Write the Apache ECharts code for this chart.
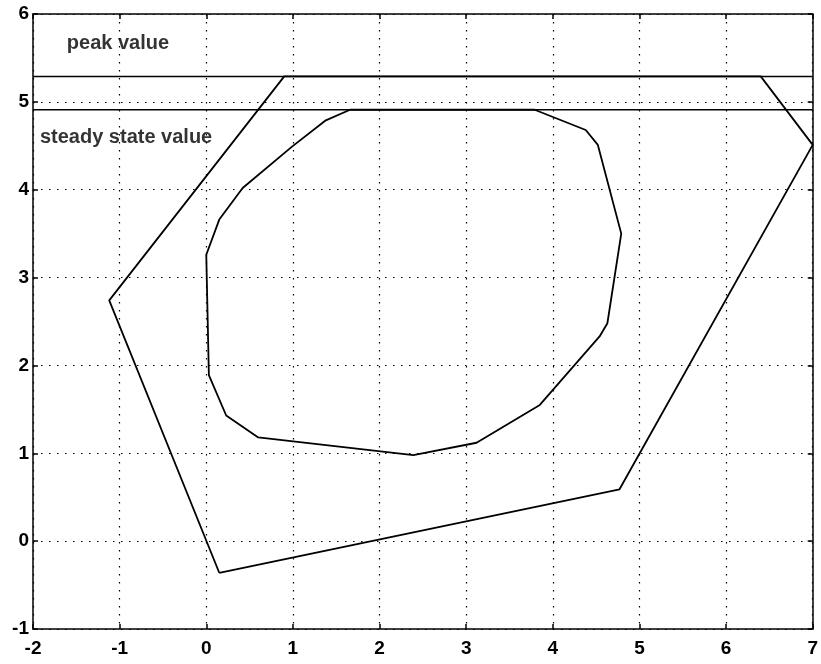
<!DOCTYPE html>
<html>
<head>
<meta charset="utf-8">
<script src="https://cdn.jsdelivr.net/npm/echarts@6/dist/echarts.min.js"></script>
<style>html,body{margin:0;padding:0;background:#fff;}#c{width:821px;height:664px;}</style>
</head>
<body>
<div id="c"></div>
<script>
// Tick values
const xTicks = [-2, -1, 0, 1, 2, 3, 4, 5, 6, 7];
const yTicks = [-1, 0, 1, 2, 3, 4, 5, 6];

// Reference levels
const peakValue = 5.29;
const steadyValue = 4.91;

// Outer polygon (clipped at peak value line)
const outerX = [0.15, -1.12, 0.90, 6.40, 7.00, 4.77, 0.15];
const outerY = [-0.36, 2.74, 5.29, 5.29, 4.51, 0.59, -0.36];

// Inner polygon (clipped at steady state value line)
const innerX = [1.66, 1.38, 0.99, 0.42, 0.15, 0.00, 0.03, 0.23, 0.60, 2.39, 3.12, 3.85, 4.54, 4.63, 4.79, 4.52, 4.38, 3.79, 1.66];
const innerY = [4.91, 4.79, 4.49, 4.02, 3.66, 3.26, 1.89, 1.43, 1.18, 0.98, 1.12, 1.55, 2.33, 2.48, 3.50, 4.51, 4.68, 4.91, 4.91];

// Text annotations
const annoText = ['peak value', 'steady state value'];
const annoX = [-1.61, -1.92];
const annoY = [5.66, 4.60];

const zip = (xs, ys) => xs.map((x, i) => [x, ys[i]]);

const chart = echarts.init(document.getElementById('c'), null, {renderer: 'canvas'});
const xMin = xTicks[0], xMax = xTicks[xTicks.length - 1];
const yMin = yTicks[0], yMax = yTicks[yTicks.length - 1];

const labelFont = {color: '#000', fontFamily: 'Liberation Sans, Arial, sans-serif', fontWeight: 'bold', fontSize: 19};

const baseX = {
  type: 'value', min: xMin, max: xMax, interval: 1,
  axisLine: {show: true, onZero: false, lineStyle: {color: '#000', width: 1.5}},
  axisTick: {show: true, inside: true, length: 5, lineStyle: {color: '#000', width: 1.5}},
  splitLine: {show: false}
};
const baseY = {
  type: 'value', min: yMin, max: yMax, interval: 1,
  axisLine: {show: true, onZero: false, lineStyle: {color: '#000', width: 1.5}},
  axisTick: {show: true, inside: true, length: 5, lineStyle: {color: '#000', width: 1.5}},
  splitLine: {show: false}
};

chart.setOption({
  animation: false,
  backgroundColor: '#fff',
  grid: {left: 33, right: 5, top: 14, bottom: 35, containLabel: false},
  xAxis: [
    Object.assign({}, baseX, {
      position: 'bottom',
      axisLabel: Object.assign({margin: 10}, labelFont),
      splitLine: {show: true, lineStyle: {color: '#000', width: 1.2, type: [1.5, 6.5]}}
    }),
    Object.assign({}, baseX, {position: 'top', axisLabel: {show: false}})
  ],
  yAxis: [
    Object.assign({}, baseY, {
      position: 'left',
      axisLabel: Object.assign({margin: 4}, labelFont),
      splitLine: {show: true, lineStyle: {color: '#000', width: 1.2, type: [1.5, 6.5]}}
    }),
    Object.assign({}, baseY, {position: 'right', axisLabel: {show: false}})
  ],
  series: [
    {
      type: 'line', data: zip(outerX, outerY), symbol: 'none',
      lineStyle: {color: '#000', width: 1.8}, silent: true
    },
    {
      type: 'line', data: zip(innerX, innerY), symbol: 'none',
      lineStyle: {color: '#000', width: 1.8}, silent: true
    },
    {
      type: 'line', data: [[xMin, peakValue], [xMax, peakValue]], symbol: 'none',
      lineStyle: {color: '#000', width: 1.5}, silent: true
    },
    {
      type: 'line', data: [[xMin, steadyValue], [xMax, steadyValue]], symbol: 'none',
      lineStyle: {color: '#000', width: 1.5}, silent: true
    },
    {
      type: 'scatter', symbolSize: 0, silent: true,
      data: annoText.map((t, i) => ({value: [annoX[i], annoY[i]], name: t})),
      label: {
        show: true, position: 'right', distance: 0,
        formatter: p => p.name,
        color: '#000', fontFamily: 'Liberation Sans, Arial, sans-serif', fontWeight: 'bold', fontSize: 20
      }
    }
  ]
});
</script>
</body>
</html>
